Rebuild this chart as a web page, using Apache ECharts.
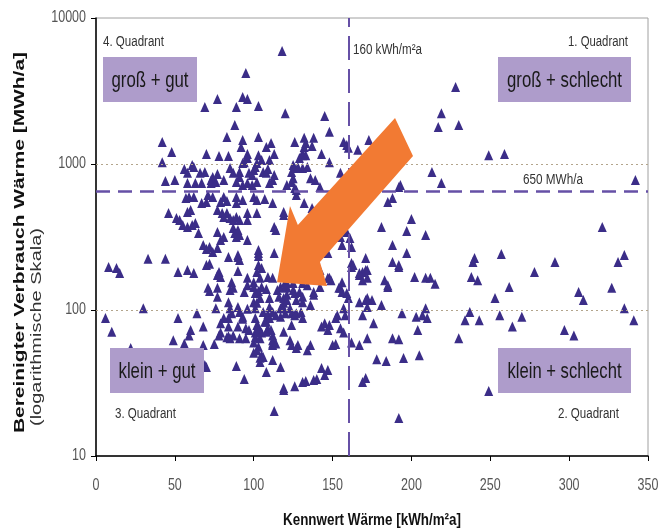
<!DOCTYPE html>
<html><head><meta charset="utf-8">
<script src="https://cdn.jsdelivr.net/npm/echarts@6/dist/echarts.min.js"></script>
<style>html,body{margin:0;padding:0;background:#fff}#c{width:669px;height:530px}</style>
</head><body><div id="c"></div>
<script>
// x: Kennwert Wärme [kWh/m²a], y: Bereinigter Verbrauch Wärme [MWh/a]
const punkte = [
[118,5950],[95,4200],[77,2790],[69,2460],[93,2880],[96,2790],[89,2460],[103,2500],[120,2230],[88,1850],[145,2130],[148,1660],[42,1415],[83,1530],[93,1460],[92,1310],[103,1530],[111,1390],[108,1310],[126,1415],[132,1510],[133,1390],[132,1310],[138,1510],[137,1330],[48,1210],[70,1170],[78,1135],[84,1135],[96,1170],[96,1100],[94,1030],[93,1015],[103,1150],[105,1065],[102,1015],[101,955],[113,1170],[110,1065],[131,1150],[129,1100],[131,1190],[143,1170],[148,1030],[42,1030],[61,985],[56,925],[58,870],[62,955],[66,870],[69,880],[73,777],[74,815],[77,855],[85,940],[87,870],[91,880],[91,815],[97,870],[99,840],[100,910],[106,880],[109,925],[108,870],[113,840],[125,985],[124,880],[126,940],[131,940],[134,955],[136,800],[139,777],[44,765],[50,777],[58,741],[63,741],[67,741],[73,741],[76,753],[81,777],[89,753],[93,718],[96,741],[99,718],[102,753],[110,741],[112,777],[121,718],[124,753],[127,664],[127,613],[142,696],[57,585],[59,594],[62,594],[67,541],[70,549],[71,613],[74,594],[79,549],[81,594],[83,558],[89,594],[89,541],[93,567],[100,594],[102,567],[107,576],[112,541],[58,469],[60,484],[46,462],[51,427],[53,413],[77,484],[80,462],[81,433],[83,462],[85,427],[87,413],[89,433],[91,413],[96,462],[96,413],[102,462],[119,447],[55,382],[58,370],[61,382],[63,394],[65,337],[77,342],[79,302],[81,316],[87,364],[88,337],[90,353],[89,316],[91,326],[96,302],[113,370],[114,353],[68,279],[70,262],[72,270],[74,250],[77,266],[84,231],[90,231],[103,246],[113,246],[33,224],[44,224],[103,258],[103,234],[103,203],[105,194],[102,182],[90,238],[91,220],[90,185],[52,182],[58,188],[62,179],[70,203],[72,207],[78,182],[79,168],[86,155],[96,166],[96,148],[100,155],[104,166],[109,168],[112,166],[71,142],[77,142],[105,144],[117,144],[121,144],[8,197],[13,194],[15,179],[77,174],[142,188],[147,166],
[30,103],[72,135],[77,123],[85,137],[87,142],[94,133],[100,144],[101,131],[103,135],[104,121],[100,113],[108,139],[110,121],[115,137],[116,123],[119,121],[120,142],[121,127],[76,103],[84,113],[85,103],[86,95],[84,88],[90,105],[91,97],[93,90],[93,87],[96,102],[101,103],[102,112],[101,88],[102,79],[106,97],[110,105],[110,88],[114,92],[117,103],[119,112],[121,117],[64,95],[52,88],[60,73],[59,67],[68,77],[79,81],[78,67],[84,77],[83,65],[85,64],[87,67],[90,77],[91,64],[95,75],[101,70],[103,77],[104,64],[108,83],[109,75],[111,73],[112,67],[112,59],[117,90],[119,71],[49,62],[56,59],[68,57.5],[75,58.5],[100,60],[103,56],[100,51],[105,49],[104,44],[112,57.5],[112,45.5],[70,40.7],[89,41.3],[94,33.7],[108,37.6],[117,40.7],[119,29.2],[119,28.3],[6,88],[10,71],[22,55],[69,42],[81,88],[79,70],[84,66],[113,20.3],[126,30.1],[131,32.1],[133,32.7],[138,33.2],[140,33.7],[143,40],[145,35.9],[102,53],[104,47],[106,47.6],[95,64],[97,73],[101,65],[103,73],[105,70],[107,83],[108,71],[109,94],[112,97],[112,62],[114,59],[120,95],[123,62],[124,57.5],[127,55],[128,57.5],[134,53],[136,57.5],[143,77],[145,81],[148,79],[147,73],[150,57.5],
[125,137],[126,131],[127,117],[129,133],[131,123],[131,113],[138,133],[138,127],[142,144],[155,142],[156,133],[159,131],[160,121],[167,113],[171,117],[172,121],[175,117],[172,105],[181,108],[185,144],[119,103],[123,103],[124,95],[126,92],[127,95],[130,97],[131,88],[136,108],[124,79],[157,103],[158,92],[169,92],[176,81],[194,95],[203,90],[207,92],[209,103],[210,88],[152,88],[153,92],[155,75],[157,70],[152,58.5],[162,60],[167,57.5],[172,64],[188,64],[192,63],[204,73],[178,46],[184,44.8],[195,46.9],[205,49],[147,38.8],[169,32.1],[171,34.2],[162,197],[167,174],[169,160],[169,182],[172,188],[172,166],[183,160],[185,148],[192,197],[202,168],[209,166],[212,166],[215,151],[238,168],[242,160],[278,182],[262,144],[253,121],[154,142],[234,85],[237,97],[243,85],[256,92],[264,77],[270,90],[306,133],[309,117],[327,142],[335,103],[341,85],[297,73],[303,67],[230,64],[249,27.9],[192,18.2],
[157,1415],[159,1350],[160,1290],[166,1250],[173,1460],[128,955],[133,1150],[228,3370],[219,2230],[217,1790],[230,1850],[249,1150],[259,1170],[155,870],[213,880],[219,741],[193,718],[342,777],[185,549],[188,585],[181,370],[200,420],[197,348],[209,326],[188,279],[197,246],[321,370],[335,238],[331,213],[240,227],[239,213],[257,242],[291,213],[171,227],[155,316],[161,311],[162,270],[188,213],[125,800],[126,685],[132,541],[137,500],[119,469],[192,696],[159,342],[156,279],[147,246],[162,210],[163,203],[171,188],[192,203],[167,179],[148,166],[149,160],[156,155],[120,155],[121,153],[125,153],[131,153],[134,148]
];
const xTicks = [0, 50, 100, 150, 200, 250, 300, 350];
const yTicks = [10, 100, 1000, 10000];
const grenzeKennwert = 160;   // kWh/m²a
const grenzeVerbrauch = 650;  // MWh/a
const hilfslinien = [100, 1000];
// arrow outline (annotation) in data coordinates
const pfeil = [[189.6,2065],[201,1135],[142,213],[146.5,146],[114.8,155],[123,515],[128,382]];

const SANS = '"Liberation Sans",Arial,sans-serif';

const chart = echarts.init(document.getElementById('c'));
chart.setOption({
  animation: false,
  backgroundColor: '#fff',
  grid: {left: 96, right: 21, top: 18, bottom: 74, show: true, borderColor: '#a0a0a0', borderWidth: 1},
  xAxis: {
    type: 'value', min: 0, max: 350, interval: 50,
    axisLine: {show: true, lineStyle: {color: '#000', width: 1.5}},
    axisTick: {show: true, inside: false, length: 5, lineStyle: {color: '#000'}},
    axisLabel: {show: false},
    splitLine: {show: false}
  },
  yAxis: {
    type: 'log', logBase: 10, min: 10, max: 10000,
    axisLine: {show: true, onZero: false, lineStyle: {color: '#000', width: 1.5}},
    axisTick: {show: true, length: 5, lineStyle: {color: '#000'}},
    axisLabel: {show: false},
    minorTick: {show: false},
    splitLine: {show: false}
  },
  series: [{
    type: 'scatter',
    data: punkte,
    symbol: 'triangle',
    symbolSize: [9, 10],
    itemStyle: {color: '#3b2d88', opacity: 1},
    z: 3,
    markLine: {
      silent: true, symbol: 'none', label: {show: false}, animation: false,
      data: [
        ...hilfslinien.map(v => ({yAxis: v, lineStyle: {type: [2, 3], color: '#b3a58c', width: 1}})),
        {yAxis: grenzeVerbrauch, lineStyle: {type: [14, 8], color: '#6650a6', width: 2.5}},
        {xAxis: grenzeKennwert, lineStyle: {type: [24, 9], color: '#6650a6', width: 2}}
      ]
    }
  }]
});

function measure(text, font) {
  const ctx = document.createElement('canvas').getContext('2d');
  ctx.font = font;
  return ctx.measureText(text).width;
}
// text squeezed/stretched to a target width (the reference uses a condensed face)
function txt(x, y, text, font, fill, align, width, extra) {
  const s = width ? width / measure(text, font) : 0.78;
  return Object.assign({type: 'text', x: x, y: y, scaleX: s, z: 11,
    style: {text: text, font: font, fill: fill, textAlign: align, textVerticalAlign: 'middle'}}, extra || {});
}
const boxColor = '#ae9ccb';
function box(x1, y1, x2, y2, text, w) {
  return [
    {type: 'rect', shape: {x: x1, y: y1, width: x2 - x1, height: y2 - y1}, style: {fill: boxColor}, z: 10},
    txt((x1 + x2) / 2, (y1 + y2) / 2 + 1, text, '22px ' + SANS, '#1a1a1a', 'center', w)
  ];
}
const lf = '14px ' + SANS;

const arrowPts = pfeil.map(p => chart.convertToPixel({gridIndex: 0}, p));
const tickFont = '16px ' + SANS;
const xLabels = xTicks.map(v => {
  const px = chart.convertToPixel({xAxisIndex: 0}, v);
  return txt(px, 486, String(v), tickFont, '#555', 'center', null);
});
const yLabels = yTicks.map(v => {
  const py = chart.convertToPixel({yAxisIndex: 0}, v);
  return txt(86, py, String(v), tickFont, '#555', 'right', null);
});

chart.setOption({
  graphic: [
    {type: 'polygon', shape: {points: arrowPts}, style: {fill: '#f27a33'}, z: 9},
    ...box(103, 57, 197, 102, 'groß + gut', 77),
    ...box(498, 57, 631, 102, 'groß + schlecht', 115),
    ...box(110, 348, 204, 393, 'klein + gut', 77),
    ...box(498, 348, 631, 393, 'klein + schlecht', 114),
    txt(103, 42, '4. Quadrant', lf, '#333', 'left', 61),
    txt(628, 42, '1. Quadrant', lf, '#333', 'right', 60),
    txt(115, 414, '3. Quadrant', lf, '#333', 'left', 61),
    txt(619, 414, '2. Quadrant', lf, '#333', 'right', 61),
    txt(353, 50, '160 kWh/m²a', lf, '#333', 'left', 69),
    txt(523, 180, '650 MWh/a', lf, '#333', 'left', 60),
    ...xLabels, ...yLabels,
    txt(372, 521, 'Kennwert Wärme [kWh/m²a]', 'bold 16px ' + SANS, '#111', 'center', 178),
    txt(20, 433, 'Bereinigter Verbrauch Wärme [MWh/a]', 'bold 15px ' + SANS, '#111', 'left', 381, {rotation: Math.PI / 2}),
    txt(37, 426, '(logarithmische Skala)', '14px ' + SANS, '#333', 'left', 198, {rotation: Math.PI / 2})
  ]
});
</script></body></html>
